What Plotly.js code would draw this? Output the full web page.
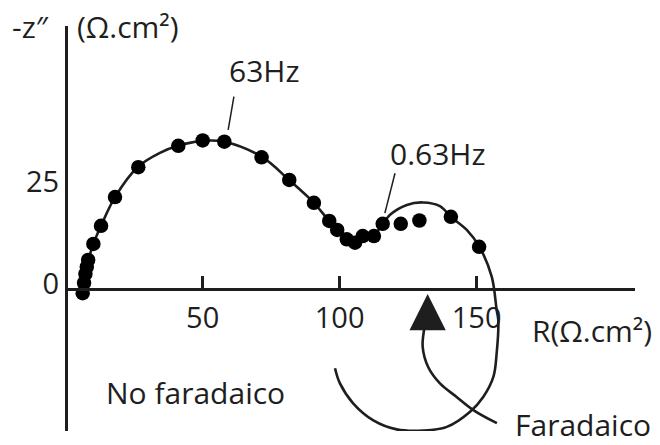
<!DOCTYPE html>
<html>
<head>
<meta charset="utf-8">
<script src="https://cdn.plot.ly/plotly-3.0.1.min.js"></script>
<style>html,body{margin:0;padding:0;background:#fff;}#chart{width:660px;height:445px;}</style>
</head>
<body>
<div id="chart"></div>
<script>
// Measured impedance points (R, -Z'')
const pointsR = [6.2, 6.7, 7.2, 7.7, 8.2, 10.1, 12.9, 18.0, 26.5, 41.1, 50.0, 57.9, 71.5, 81.6, 90.6, 96.2, 99.1, 102.6, 105.6, 108.4, 112.5, 115.7, 122.3, 129.1, 140.6, 150.9];
const pointsZ = [-1.0, 1.5, 3.7, 5.4, 7.1, 11.0, 15.4, 22.4, 29.7, 34.9, 36.2, 35.9, 32.1, 26.6, 21.0, 16.6, 14.4, 12.1, 11.3, 12.9, 12.9, 15.9, 15.9, 16.7, 17.6, 10.3];

// Fitted curve (continues into the faradaic loop)
const fitR = [5.8, 6.7, 7.7, 8.5, 10.1, 12.9, 18.0, 26.4, 34.4, 41.0, 49.7, 57.8, 71.6, 81.5, 90.6, 96.1, 100.1, 104.5, 108.1, 112.5, 115.8, 118.4, 124.5, 130.4, 136.6, 140.6, 146.4, 151.0, 155.5, 157.3, 157.9, 157.3, 156.1, 152.4, 147.6, 139.1, 130.5, 120.8, 112.3, 105.0, 100.1, 98.3];
const fitZ = [-1.2, 1.5, 5.1, 7.6, 11.0, 15.4, 22.4, 29.8, 33.2, 34.9, 36.1, 35.9, 32.2, 26.6, 21.0, 16.6, 13.7, 11.5, 12.0, 13.2, 15.9, 18.1, 20.5, 21.1, 20.2, 17.6, 14.4, 10.3, 3.0, -5.1, -7.6, -15.7, -21.4, -26.3, -29.9, -33.6, -34.5, -34.2, -32.0, -27.9, -23.0, -19.3];

// "Faradaico" pointer path
const arrowR = [157.4, 148.8, 142.7, 136.6, 132.3, 130.3, 130.8, 131.8];
const arrowZ = [-32.7, -29.5, -26.3, -23.0, -19.0, -14.1, -10.0, -7.0];
const arrowTip = [132.1, -1.2];

// Frequency leader lines
const lead63R = [59.3, 61.4];
const lead63Z = [38.8, 46.9];
const lead063R = [116.5, 120.2];
const lead063Z = [18.5, 28.2];

// Axis ticks and ranges
const xTicks = [50, 100, 150];
const yTicks = [0, 25];
const xRange = [0.84, 207.8];
const yRange = [-34.6, 64.1];

const ink = '#1e1e1e';
const fontFam = 'Open Sans, Noto Sans, DejaVu Sans, sans-serif';

const traces = [
  {x: fitR, y: fitZ, mode: 'lines', line: {color: ink, width: 2.6, shape: 'spline', smoothing: 1}, hoverinfo: 'skip', cliponaxis: false},
  {x: arrowR, y: arrowZ, mode: 'lines', line: {color: ink, width: 2.6, shape: 'spline', smoothing: 1}, hoverinfo: 'skip', cliponaxis: false},
  {x: lead63R, y: lead63Z, mode: 'lines', line: {color: ink, width: 1.5}, hoverinfo: 'skip'},
  {x: lead063R, y: lead063Z, mode: 'lines', line: {color: ink, width: 1.5}, hoverinfo: 'skip'},
  {x: pointsR, y: pointsZ, mode: 'markers', marker: {color: '#000', size: 14.5}, cliponaxis: false}
];

function txt(t, x, y, ref) {
  return {text: t, x: x, y: y, xref: ref ? 'paper' : 'x', yref: ref ? 'paper' : 'y', showarrow: false,
          xanchor: 'center', yanchor: 'middle', font: {family: fontFam, size: 30, color: ink}};
}

const annotations = [
  txt('63Hz', 72.4, 53.2),
  txt('0.63Hz', 135.9, 33.0),
  txt('No faradaico', 47.2, -25.2),
  txt('Faradaico', 188.8, -33.1),
  txt('R(\u03A9.cm\u00B2)', 192.2, -10.2),
  txt('-z\u2033', -0.066, 1.0, true),
  txt('(\u03A9.cm\u00B2)', 22.7, 64.1),
  {x: arrowTip[0], y: arrowTip[1], xref: 'x', yref: 'y', text: '', showarrow: true,
   ax: 0, ay: 28, arrowhead: 2, arrowsize: 2.9, arrowwidth: 2.5, arrowcolor: ink}
];

const layout = {
  width: 660, height: 445,
  margin: {l: 68, r: 25, t: 26, b: 14},
  paper_bgcolor: '#fff', plot_bgcolor: '#fff',
  showlegend: false,
  xaxis: {
    range: xRange, anchor: 'free',
    position: (0 - yRange[0]) / (yRange[1] - yRange[0]),
    showgrid: false, zeroline: false,
    showline: true, linecolor: ink, linewidth: 3,
    ticks: 'inside', ticklen: 12, tickwidth: 2.5, tickcolor: ink,
    tickvals: xTicks, ticktext: xTicks.map(String),
    tickfont: {family: fontFam, size: 29, color: ink},
    ticklabelstandoff: 2
  },
  yaxis: {
    range: yRange,
    showgrid: false, zeroline: false,
    showline: true, linecolor: ink, linewidth: 3,
    ticks: '', tickvals: yTicks, ticktext: yTicks.map(String),
    tickfont: {family: fontFam, size: 29, color: ink},
    ticklabelshift: -5
  },
  annotations: annotations
};

Plotly.newPlot('chart', traces, layout, {staticPlot: true, displayModeBar: false});
</script>
</body>
</html>
